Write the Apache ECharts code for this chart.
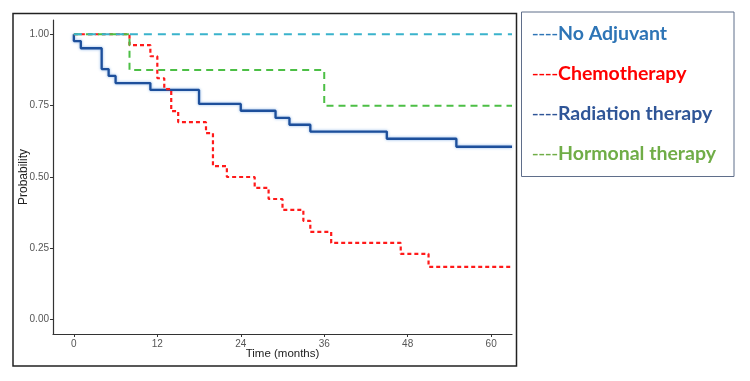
<!DOCTYPE html>
<html>
<head>
<meta charset="utf-8">
<script src="https://cdn.jsdelivr.net/npm/echarts@6/dist/echarts.min.js"></script>
<style>
  html, body { margin: 0; padding: 0; background: #fff; }
  #chart { width: 750px; height: 381px; }
</style>
</head>
<body>
<div id="chart"></div>
<script>
  // Kaplan-Meier curves (time in months, survival probability)
  const noAdjTime = [0, 63]
  const noAdjSurv = [1, 1]

  const chemoTime = [0, 8, 11, 12, 13, 14, 15, 19, 20, 22, 26, 28, 30, 33, 34, 37, 47, 51, 63]
  const chemoSurv = [1, 0.962, 0.923, 0.846, 0.808, 0.731, 0.692, 0.654, 0.538, 0.5, 0.462, 0.423, 0.385, 0.346, 0.308, 0.269, 0.231, 0.185, 0.185]

  const radTime = [0, 0, 1, 4, 5, 6, 11, 18, 24, 29, 31, 34, 45, 55, 63]
  const radSurv = [1, 0.976, 0.951, 0.878, 0.854, 0.829, 0.805, 0.756, 0.732, 0.707, 0.683, 0.659, 0.634, 0.606, 0.606]

  const hormTime = [0, 8, 36, 63]
  const hormSurv = [1, 0.875, 0.75, 0.75]

  const xTicks = [0, 12, 24, 36, 48, 60]
  const yTicks = [0, 0.25, 0.5, 0.75, 1]

  const legendNames = ['No Adjuvant', 'Chemotherapy', 'Radiation therapy', 'Hormonal therapy']
  const legendColors = ['#2E75B6', '#FF0000', '#2F5597', '#70AD47']

  const zip = (t, s) => t.map((v, i) => [v, s[i]])

  const chart = echarts.init(document.getElementById('chart'))
  chart.setOption({
    animation: false,
    grid: {left: 53, right: 238, top: 20, bottom: 47, containLabel: false, outerBoundsMode: 'none'},
    graphic: [
      // frame round the plot
      {type: 'rect', shape: {x: 13, y: 13.5, width: 503.5, height: 352.5},
        style: {fill: 'none', stroke: '#222', lineWidth: 1.5}, silent: true},
      // frame round the legend
      {type: 'rect', shape: {x: 521.5, y: 12, width: 212.5, height: 164.5},
        style: {fill: 'none', stroke: '#5F6E8A', lineWidth: 1}, silent: true}
    ],
    legend: {
      orient: 'vertical',
      left: 522,
      top: 18,
      icon: 'none',
      itemWidth: 0,
      itemHeight: 22,
      itemGap: 19,
      selectedMode: false,
      data: legendNames.map((n, i) => ({name: n, textStyle: {color: legendColors[i]}})),
      formatter: name => '{d|----}{n|' + name + '}',
      textStyle: {
        fontFamily: 'Lato',
        fontSize: 19.5,
        rich: {
          d: {fontFamily: 'DejaVu Sans', fontSize: 18, fontWeight: 'normal', lineHeight: 22},
          n: {fontFamily: 'Lato', fontSize: 19.5, fontWeight: 'bold', lineHeight: 22}
        }
      }
    },
    xAxis: {
      type: 'value',
      min: -3,
      max: 63,
      name: 'Time (months)',
      nameLocation: 'middle',
      nameGap: 14,
      nameMoveOverlap: false,
      nameTextStyle: {color: '#222', fontSize: 11.5, fontFamily: 'Liberation Sans', verticalAlign: 'top'},
      axisLine: {show: true, onZero: false, lineStyle: {color: '#333', width: 1.2}},
      axisTick: {show: true, length: 3, customValues: xTicks, lineStyle: {color: '#333'}},
      axisLabel: {customValues: xTicks, color: '#555', fontSize: 10, fontFamily: 'Liberation Sans', margin: 5},
      splitLine: {show: false}
    },
    yAxis: {
      type: 'value',
      min: -0.05,
      max: 1.05,
      name: 'Probability',
      nameLocation: 'middle',
      nameGap: 23,
      nameRotate: 90,
      nameMoveOverlap: false,
      nameTextStyle: {color: '#222', fontSize: 12, fontFamily: 'Liberation Sans'},
      axisLine: {show: true, onZero: false, lineStyle: {color: '#333', width: 1.2}},
      axisTick: {show: true, length: 3, customValues: yTicks, lineStyle: {color: '#333'}},
      axisLabel: {customValues: yTicks, color: '#555', fontSize: 10, fontFamily: 'Liberation Sans', margin: 4,
        formatter: v => v.toFixed(2)},
      splitLine: {show: false}
    },
    series: [
      {
        name: 'Radiation therapy', type: 'line', step: 'end', symbol: 'none', z: 2,
        data: zip(radTime, radSurv),
        lineStyle: {color: '#1D4F9B', width: 2.3, shadowBlur: 3, shadowColor: 'rgba(110,160,225,0.8)'},
        itemStyle: {color: '#2F5597'}
      },
      {
        name: 'Chemotherapy', type: 'line', step: 'end', symbol: 'none', z: 3,
        data: zip(chemoTime, chemoSurv),
        lineStyle: {color: '#FF1A1A', width: 2.2, type: [4, 3]},
        itemStyle: {color: '#FF0000'}
      },
      {
        name: 'Hormonal therapy', type: 'line', step: 'end', symbol: 'none', z: 4,
        data: zip(hormTime, hormSurv),
        lineStyle: {color: '#4CBF45', width: 2, type: [7, 5]},
        itemStyle: {color: '#70AD47'}
      },
      {
        name: 'No Adjuvant', type: 'line', step: 'end', symbol: 'none', z: 5,
        data: zip(noAdjTime, noAdjSurv),
        lineStyle: {color: '#3AB3CC', width: 1.8, type: [8, 6]},
        itemStyle: {color: '#2E75B6'}
      }
    ]
  })
</script>
</body>
</html>
